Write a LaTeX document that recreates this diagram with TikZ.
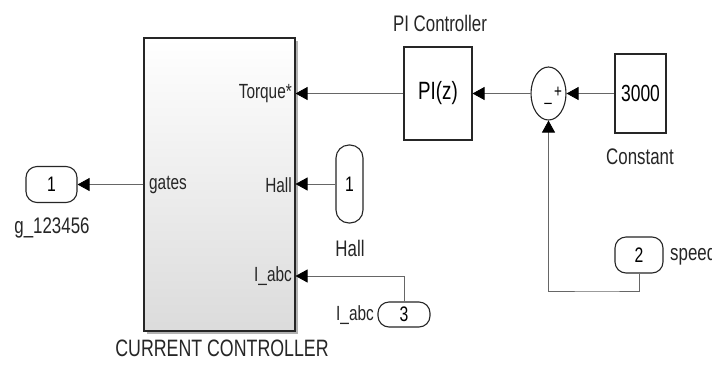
\documentclass[tikz,border=0pt]{standalone}
\usepackage{fontspec}
\setmainfont{Liberation Sans}[FakeStretch=0.75]
\usetikzlibrary{shapes.geometric,arrows.meta}
\begin{document}
\begin{tikzpicture}[x=1pt,y=-1pt,
 blk/.style={draw=black!85,line width=1.1pt,inner sep=0pt,fill=white},
 port/.style={draw=black!85,line width=1.1pt,rounded corners=11pt,inner sep=0pt,fill=white,font=\fontsize{21}{21}\selectfont},
 sig/.style={draw=black!60,line width=0.8pt,-{Triangle[length=12pt,width=13pt,color=black,fill=black]}},
 lbl/.style={font=\fontsize{22.5}{22.5}\selectfont,inner sep=0pt,text=black!85},
 plbl/.style={font=\fontsize{20.5}{20.5}\selectfont,inner sep=0pt,text=black!85}]
\useasboundingbox (0,0) rectangle (712,365);
\fill[white] (0,0) rectangle (712,365);
% current controller
\fill[black!30] (146.5,40.5) rectangle (297.5,333.5);
\node[blk, minimum width=151, minimum height=293, top color=white, bottom color=black!14] (cc) at (219.5,184.5) {};
\node[lbl, font=\fontsize{23.7}{23.7}\selectfont] (cclbl) at (222,348) {CURRENT CONTROLLER};
\node[plbl, anchor=east] (tq) at (292,94) {Torque*};
\node[plbl, anchor=east] (hl) at (292,185) {Hall};
\node[plbl, anchor=east] (ia) at (292,276) {I\_abc};
\node[plbl, anchor=west] (gt) at (149,185) {gates};
% outport 1
\node[port, minimum width=51, minimum height=36] (out1) at (51.5,184.5) {1};
\node[lbl] (out1lbl) at (52,228) {g\_123456};
% hall inport
\node[port, minimum width=27, minimum height=78, rounded corners=13pt] (hall) at (349.5,184) {1};
\node[lbl] (halllbl) at (350,248) {Hall};
% inport 3
\node[port, minimum width=52, minimum height=25] (in3) at (404,314.5) {3};
\node[plbl, anchor=east] (in3lbl) at (374,315) {I\_abc};
% PI
\node[blk, minimum width=68, minimum height=93] (pi) at (438,93.5) {\fontsize{25}{25}\selectfont PI(z)};
\node[lbl] (pilbl) at (440,23) {PI Controller};
% sum
\node[draw=black!85,line width=1.1pt,ellipse,minimum width=35,minimum height=53,inner sep=0pt,fill=white] (sum) at (548.5,93.5) {};
\node[font=\fontsize{18}{18}\selectfont,inner sep=0pt] (plus) at (558,92) {+};
\node[font=\fontsize{18}{18}\selectfont,inner sep=0pt] (minus) at (548,106) {\textendash};
% constant
\node[blk, minimum width=51, minimum height=79] (const) at (640.5,93.5) {\fontsize{23.3}{23.3}\selectfont 3000};
\node[lbl] (constlbl) at (640,157) {Constant};
% inport 2
\node[port, minimum width=48, minimum height=36] (in2) at (639,255) {2};
\node[lbl, anchor=west] (in2lbl) at (670,255) {speed};
\coordinate (spc) at (600,291);
\coordinate (iac) at (cc.east |- 0,276);
% connectors
\draw[sig] (pi.west) -- (pi.west -| cc.east);
\draw[sig] (hall.west) -- (hall.west -| cc.east);
\draw[sig] (in3.north) |- (iac);
\draw[sig] (out1.east -| cc.west) -- (out1.east);
\draw[sig] (sum.west) -- (pi.east);
\draw[sig] (const.west) -- (sum.east);
\draw[sig] (in2.south) |- (spc) -| (sum.south);
\end{tikzpicture}
\end{document}
